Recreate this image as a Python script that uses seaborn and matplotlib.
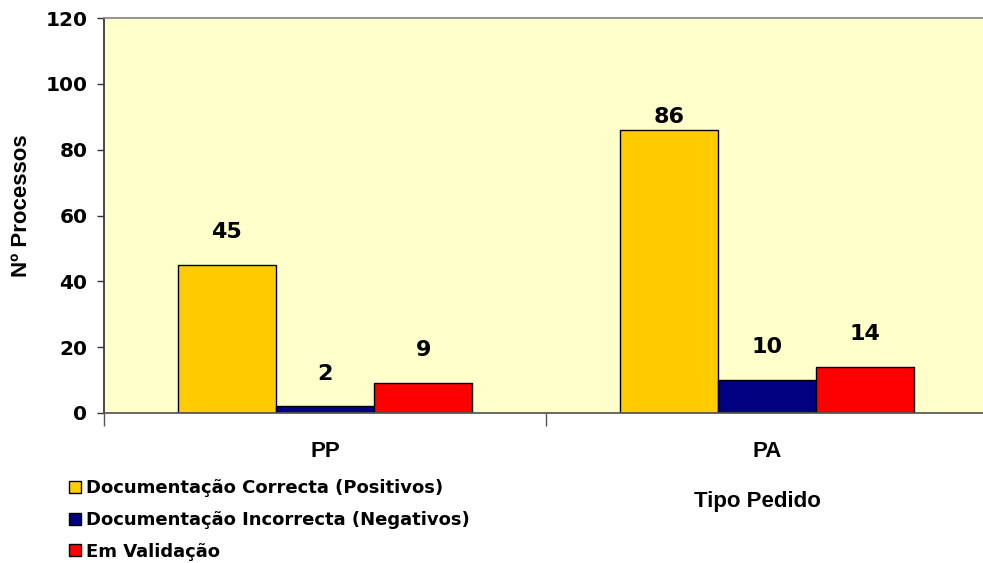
import matplotlib
matplotlib.use("Agg")
import matplotlib.pyplot as plt
import seaborn as sns
import pandas as pd
from matplotlib.patches import Patch

# Data
categories = ["PP", "PA"]
series = [
    "Documentação Correcta (Positivos)",
    "Documentação Incorrecta (Negativos)",
    "Em Validação",
]
correcta = [45, 86]
incorrecta = [2, 10]
validacao = [9, 14]
colors = ["#FFCC00", "#000080", "#FF0000"]
y_ticks = [0, 20, 40, 60, 80, 100, 120]

df = pd.DataFrame({
    "Tipo Pedido": categories * 3,
    "Serie": [series[0]] * 2 + [series[1]] * 2 + [series[2]] * 2,
    "Valor": correcta + incorrecta + validacao,
})

sns.set_theme(style="white")
plt.rcParams["font.family"] = ["DejaVu Sans"]
for key in ["text.color", "axes.labelcolor", "xtick.color", "ytick.color"]:
    plt.rcParams[key] = "black"

fig = plt.figure(figsize=(9.83, 5.63), dpi=100)
ax = fig.add_axes([104 / 983, 150 / 563, 884 / 983, 395 / 563])
ax.set_facecolor("#FFFFCC")

sns.barplot(
    data=df, x="Tipo Pedido", y="Valor", hue="Serie",
    order=categories, hue_order=series, palette=colors,
    width=0.667, edgecolor="black", linewidth=1.0,
    saturation=1, legend=False, ax=ax,
)

ax.set_xlim(-0.5, 1.5)
ax.set_ylim(0, 120)
ax.set_yticks(y_ticks)

# value labels above each bar
label_gap = {86: 4}
for patch in ax.patches:
    h = patch.get_height()
    if h <= 0:
        continue
    ax.text(patch.get_x() + patch.get_width() / 2, h + label_gap.get(int(round(h)), 10),
            f"{h:.0f}", ha="center", va="center",
            fontsize=16, fontweight="bold", color="black")

for side in ["left", "bottom", "top"]:
    ax.spines[side].set_visible(True)
ax.spines["right"].set_visible(False)
ax.spines["left"].set_color("#333333")
ax.spines["bottom"].set_color("#555555")
ax.spines["top"].set_color("#888888")

ax.tick_params(axis="y", which="major", left=True, length=5, width=1,
               color="#333333", labelsize=14.5, pad=7)
ax.set_yticklabels([str(v) for v in y_ticks], fontweight="bold")

# category labels centred, separator ticks between groups
ax.set_xticks([-0.5, 0.5, 1.5])
ax.set_xticklabels([])
ax.tick_params(axis="x", which="major", bottom=True, length=9, width=1, color="#555555")
ax.set_xticks([0, 1], minor=True)
ax.set_xticklabels(categories, minor=True, fontsize=16, fontweight="bold",
                   family="Liberation Sans")
ax.tick_params(axis="x", which="minor", bottom=False, length=0, pad=20)

ax.set_xlabel("")
ax.set_ylabel("Nº Processos", fontsize=16, fontweight="bold", family="Liberation Sans")
ax.yaxis.set_label_coords(-0.0814, 0.524)

fig.text(757 / 983, 1 - 502 / 563, "Tipo Pedido", ha="center", va="center",
         fontsize=16, fontweight="bold", family="Liberation Sans")

handles = [Patch(facecolor=c, edgecolor="black", linewidth=1) for c in colors]
fig.legend(handles, series, loc="upper left", bbox_to_anchor=(62 / 983, 1 - 472 / 563),
           frameon=False, handlelength=0.65, handleheight=0.65, handletextpad=0.3,
           labelspacing=0.76, borderaxespad=0,
           prop={"size": 13.0, "weight": "bold"})

fig.savefig("out.png", dpi=100)
